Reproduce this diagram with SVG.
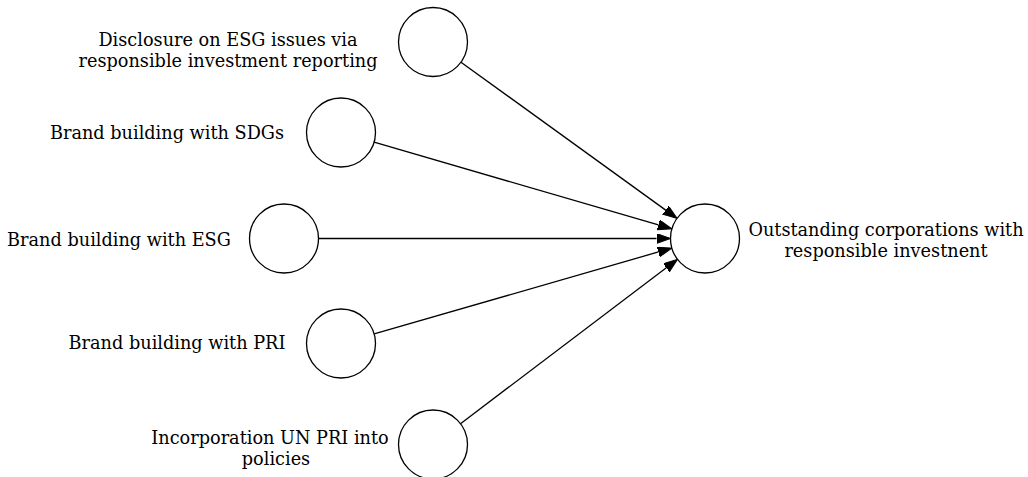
<svg xmlns="http://www.w3.org/2000/svg" width="1028" height="477" viewBox="0 0 1028 477">
<style>
  .node circle { fill: #ffffff; stroke: #000000; stroke-width: 1.3; }
  .label { font-family: "DejaVu Serif", "Liberation Serif", serif; font-size: 17.7px; fill: #000000; text-anchor: middle; }
  .edge { fill: none; stroke: #000000; stroke-width: 1.3; }
</style>
<defs>
  <marker id="arrow" markerUnits="userSpaceOnUse" markerWidth="16" markerHeight="12" refX="0" refY="5" orient="auto">
    <path d="M0,0 L14,5 L0,10 Z" fill="#000000" stroke="#000000" stroke-width="1"/>
  </marker>
</defs>
<rect width="1028" height="477" fill="#ffffff"/>
<g id="connectors">
  <path class="edge" d="M460.97,62.20 L665.69,210.10" marker-end="url(#arrow)"/>
  <path class="edge" d="M374.12,142.15 L658.43,224.94" marker-end="url(#arrow)"/>
  <path class="edge" d="M318.5,238.5 L656.5,238.5" marker-end="url(#arrow)"/>
  <path class="edge" d="M374.15,333.94 L658.40,251.94" marker-end="url(#arrow)"/>
  <path class="edge" d="M460.50,423.67 L666.34,267.78" marker-end="url(#arrow)"/>
</g>
<g id="node-disclosure" class="node">
  <circle cx="433" cy="42" r="34.5"/>
  <text class="label" x="228" y="46">Disclosure on ESG issues via</text>
  <text class="label" x="228" y="67">responsible investment reporting</text>
</g>
<g id="node-sdgs" class="node">
  <circle cx="341" cy="132.5" r="34.5"/>
  <text class="label" x="167" y="139">Brand building with SDGs</text>
</g>
<g id="node-esg" class="node">
  <circle cx="284" cy="238.5" r="34.5"/>
  <text class="label" x="119" y="246">Brand building with ESG</text>
</g>
<g id="node-pri" class="node">
  <circle cx="341" cy="343.5" r="34.5"/>
  <text class="label" x="177" y="349">Brand building with PRI</text>
</g>
<g id="node-unpri" class="node">
  <circle cx="433" cy="444.5" r="34.5"/>
  <text class="label" x="270" y="444">Incorporation UN PRI into</text>
  <text class="label" x="276" y="465">policies</text>
</g>
<g id="node-outstanding" class="node">
  <circle cx="705" cy="238.5" r="34.5"/>
  <text class="label" x="886" y="236">Outstanding corporations with</text>
  <text class="label" x="886" y="257">responsible investnent</text>
</g>
</svg>
